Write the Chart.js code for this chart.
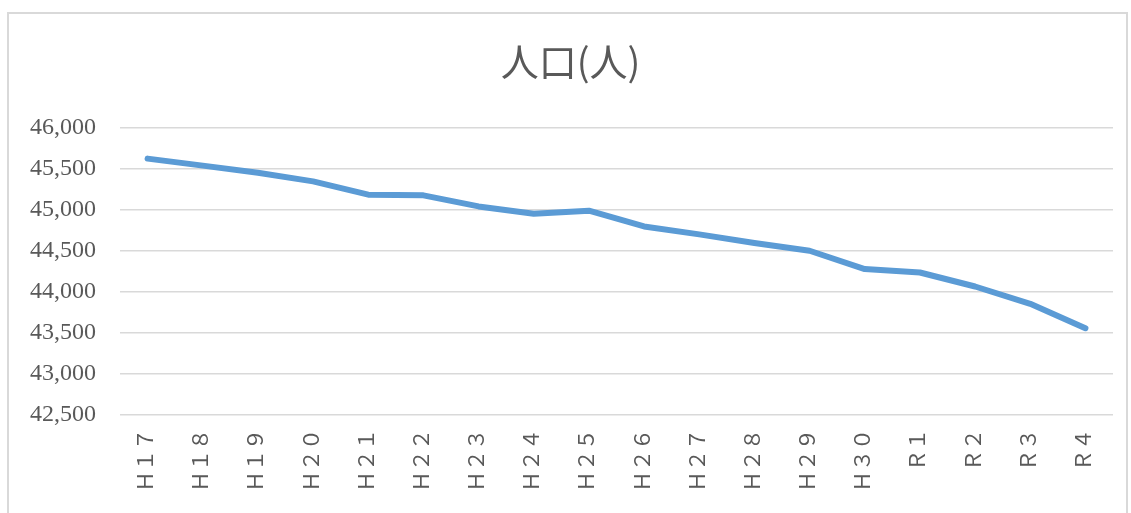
<!DOCTYPE html>
<html>
<head>
<meta charset="utf-8">
<script src="https://cdn.jsdelivr.net/npm/chart.js@4.4.1/dist/chart.umd.min.js"></script>
<style>
  html, body { margin: 0; padding: 0; background: #fff; overflow: hidden; }
  #wrap { position: relative; width: 1131px; height: 513px; }
  #frame { position: absolute; left: 7px; top: 12px; width: 1121px; height: 520px; border: 2px solid #d9d9d9; box-sizing: border-box; }
  canvas { position: absolute; left: 0; top: 0; }
</style>
</head>
<body>
<div id="wrap">
  <div id="frame"></div>
  <canvas id="c" width="1131" height="513"></canvas>
</div>
<script>
const titleText = '人口(人)';
const categories = ['Ｈ１７','Ｈ１８','Ｈ１９','Ｈ２０','Ｈ２１','Ｈ２２','Ｈ２３','Ｈ２４','Ｈ２５','Ｈ２６','Ｈ２７','Ｈ２８','Ｈ２９','Ｈ３０','Ｒ１','Ｒ２','Ｒ３','Ｒ４'];
const population = [45622, 45537, 45450, 45345, 45183, 45175, 45040, 44951, 44988, 44796, 44700, 44594, 44500, 44277, 44235, 44065, 43854, 43557];
const yMin = 42500;
const yMax = 46000;
const yStep = 500;

const gray = '#595959';
const serif = '"Liberation Serif", "Noto Sans CJK JP", serif';

new Chart(document.getElementById('c'), {
  type: 'line',
  data: {
    labels: categories,
    datasets: [{
      label: titleText,
      data: population,
      borderColor: '#5b9bd5',
      backgroundColor: '#5b9bd5',
      borderWidth: 6,
      borderCapStyle: 'round',
      borderJoinStyle: 'round',
      pointRadius: 0,
      pointHoverRadius: 0,
      tension: 0,
      fill: false
    }]
  },
  options: {
    responsive: false,
    animation: false,
    devicePixelRatio: 1,
    layout: { padding: { left: 28, right: 18, top: 0, bottom: 0 } },
    plugins: {
      legend: { display: false },
      tooltip: { enabled: false },
      title: {
        display: true,
        text: titleText,
        color: gray,
        font: { family: '"Noto Sans CJK JP", serif', size: 38, weight: 'normal', lineHeight: 1.2 },
        padding: { top: 39, bottom: 43 }
      }
    },
    scales: {
      x: {
        offset: true,
        grid: { display: false, drawTicks: false },
        border: { display: false },
        ticks: {
          color: gray,
          font: { family: serif, size: 21 },
          maxRotation: 90,
          minRotation: 90,
          padding: 14,
          autoSkip: false
        },
        afterFit(scale) { scale.height = 98; }
      },
      y: {
        min: yMin,
        max: yMax,
        grid: { color: '#d9d9d9', lineWidth: 1.5, drawTicks: false },
        border: { display: false },
        ticks: {
          stepSize: yStep,
          color: gray,
          font: { family: serif, size: 24 },
          padding: 24,
          callback: v => v.toLocaleString('en-US')
        },
        afterFit(scale) { scale.width = 92; }
      }
    }
  }
});
</script>
</body>
</html>
